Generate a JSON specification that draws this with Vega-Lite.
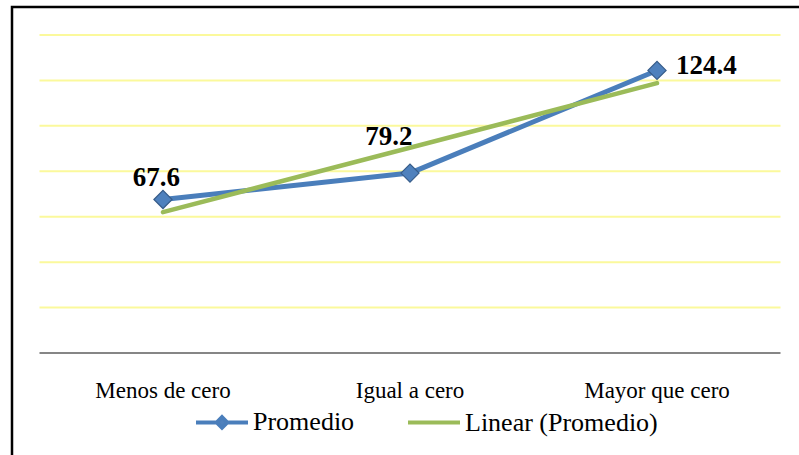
{
  "$schema": "https://vega.github.io/schema/vega-lite/v6.json",
  "width": 800,
  "height": 460,
  "autosize": {"type": "none"},
  "padding": {"left": 12, "top": 7, "right": -13, "bottom": -12},
  "background": "white",
  "config": {
    "view": {"stroke": "#000000", "strokeWidth": 2.5, "fill": "white"}
  },
  "datasets": {
    "lines": [
      {"cat": "Menos de cero", "idx": 1, "value": 67.6, "series": "Promedio"},
      {"cat": "Igual a cero", "idx": 2, "value": 79.2, "series": "Promedio"},
      {"cat": "Mayor que cero", "idx": 3, "value": 124.4, "series": "Promedio"},
      {"cat": "Menos de cero", "idx": 1, "value": 62.0, "series": "Linear (Promedio)"},
      {"cat": "Mayor que cero", "idx": 3, "value": 118.8, "series": "Linear (Promedio)"}
    ],
    "grid": [
      {"g": 20}, {"g": 40}, {"g": 60}, {"g": 80}, {"g": 100}, {"g": 120}, {"g": 140}
    ]
  },
  "layer": [
    {
      "data": {"name": "grid"},
      "mark": {"type": "rule", "stroke": "#FBF99C", "strokeWidth": 2},
      "encoding": {
        "y": {"field": "g", "type": "quantitative", "scale": {"domain": [-50.19, 152.33], "nice": false, "zero": false}, "axis": null},
        "x": {"datum": 0.5, "type": "quantitative", "scale": {"domain": [0.3887, 3.6275], "nice": false, "zero": false}, "axis": null},
        "x2": {"datum": 3.5}
      }
    },
    {
      "data": {"name": "grid"},
      "transform": [{"filter": "datum.g === 20"}],
      "mark": {"type": "rule", "stroke": "#868686", "strokeWidth": 2},
      "encoding": {
        "y": {"datum": 0, "type": "quantitative"},
        "x": {"datum": 0.5, "type": "quantitative"},
        "x2": {"datum": 3.5}
      }
    },
    {
      "data": {"name": "lines"},
      "transform": [{"filter": "datum.series === 'Promedio'"}],
      "mark": {"type": "line", "strokeWidth": 5, "strokeJoin": "round", "strokeCap": "round"},
      "encoding": {
        "x": {"field": "idx", "type": "quantitative"},
        "y": {"field": "value", "type": "quantitative"},
        "order": {"field": "idx"},
        "color": {
          "field": "series",
          "type": "nominal",
          "scale": {"domain": ["Promedio", "Linear (Promedio)"], "range": ["#4A7EBB", "#9BBB59"]},
          "legend": {
            "orient": "none",
            "legendX": 182,
            "legendY": 387,
            "direction": "horizontal",
            "title": null,
            "padding": 0,
            "symbolSize": 2704,
            "symbolStrokeWidth": 4,
            "labelFont": "Liberation Serif",
            "labelFontSize": 26,
            "labelColor": "#000000",
            "labelOffset": 3,
            "labelLimit": 400,
            "columnPadding": 45,
            "encode": {
              "symbols": {
                "update": {
                  "shape": {"signal": "datum.value === 'Promedio' ? 'M-1,0H-0.2M0.2,0H1M0,-0.2L0.2,0L0,0.2L-0.2,0Z' : 'stroke'"},
                  "fill": {"signal": "datum.value === 'Promedio' ? '#4F81BD' : 'transparent'"}
                }
              }
            }
          }
        }
      }
    },
    {
      "data": {"name": "lines"},
      "transform": [{"filter": "datum.series !== 'Promedio'"}],
      "mark": {"type": "line", "strokeWidth": 4.5, "strokeCap": "round"},
      "encoding": {
        "x": {"field": "idx", "type": "quantitative"},
        "y": {"field": "value", "type": "quantitative"},
        "order": {"field": "idx"},
        "color": {"field": "series", "type": "nominal"}
      }
    },
    {
      "data": {"name": "lines"},
      "transform": [{"filter": "datum.series === 'Promedio'"}],
      "mark": {"type": "point", "shape": "diamond", "filled": true, "size": 330, "fill": "#4F81BD", "stroke": "#385D8A", "strokeWidth": 1.2, "opacity": 1},
      "encoding": {
        "x": {"field": "idx", "type": "quantitative"},
        "y": {"field": "value", "type": "quantitative"}
      }
    },
    {
      "data": {"name": "lines"},
      "transform": [{"filter": "datum.series === 'Promedio'"}],
      "mark": {"type": "text", "font": "Liberation Serif", "fontSize": 23, "color": "#000000", "align": "center", "baseline": "alphabetic", "dy": 45},
      "encoding": {
        "x": {"field": "idx", "type": "quantitative"},
        "y": {"datum": 0, "type": "quantitative"},
        "text": {"field": "cat"}
      }
    },
    {
      "data": {"name": "lines"},
      "transform": [{"filter": "datum.series === 'Promedio' && datum.idx === 1"}],
      "mark": {"type": "text", "font": "Liberation Serif", "fontWeight": "bold", "fontSize": 27, "color": "#000000", "align": "center", "baseline": "alphabetic", "dx": -6.5, "dy": -13.5},
      "encoding": {
        "x": {"field": "idx", "type": "quantitative"},
        "y": {"field": "value", "type": "quantitative"},
        "text": {"field": "value", "format": ".1f"}
      }
    },
    {
      "data": {"name": "lines"},
      "transform": [{"filter": "datum.series === 'Promedio' && datum.idx === 2"}],
      "mark": {"type": "text", "font": "Liberation Serif", "fontWeight": "bold", "fontSize": 27, "color": "#000000", "align": "center", "baseline": "alphabetic", "dx": -21, "dy": -28},
      "encoding": {
        "x": {"field": "idx", "type": "quantitative"},
        "y": {"field": "value", "type": "quantitative"},
        "text": {"field": "value", "format": ".1f"}
      }
    },
    {
      "data": {"name": "lines"},
      "transform": [{"filter": "datum.series === 'Promedio' && datum.idx === 3"}],
      "mark": {"type": "text", "font": "Liberation Serif", "fontWeight": "bold", "fontSize": 27, "color": "#000000", "align": "left", "baseline": "alphabetic", "dx": 19, "dy": 3.5},
      "encoding": {
        "x": {"field": "idx", "type": "quantitative"},
        "y": {"field": "value", "type": "quantitative"},
        "text": {"field": "value", "format": ".1f"}
      }
    }
  ]
}
